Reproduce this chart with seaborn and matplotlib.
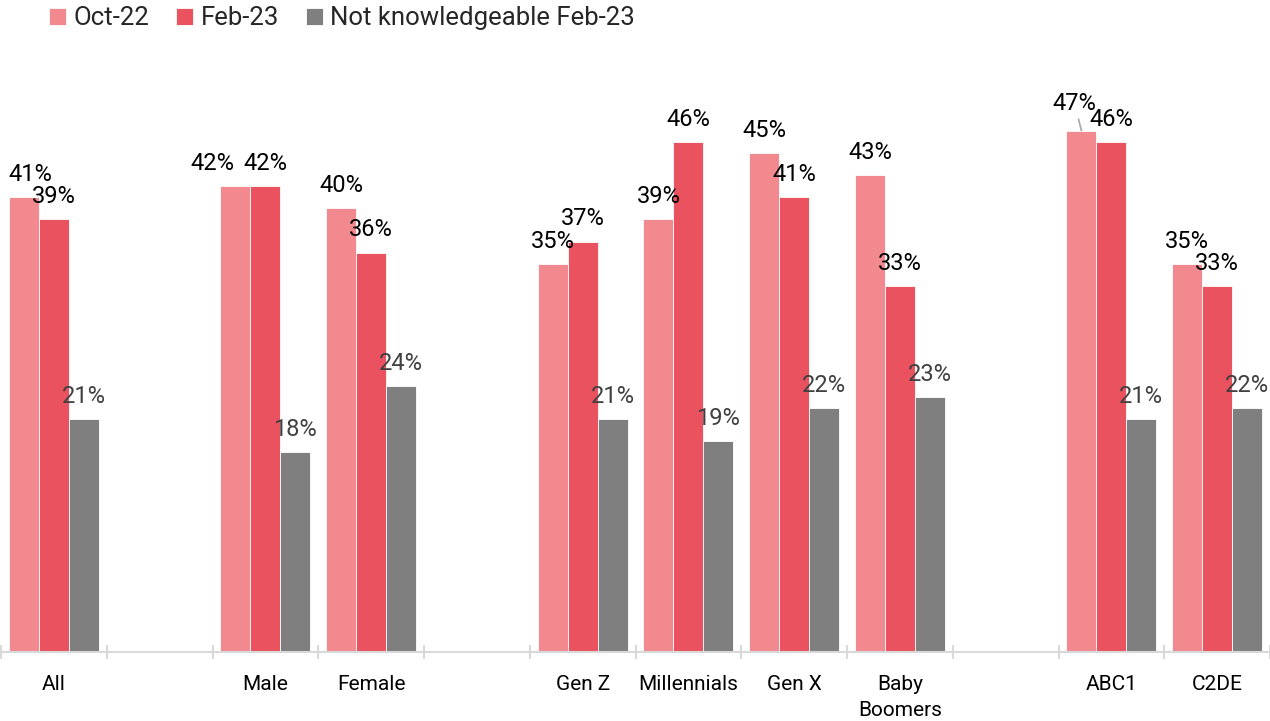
import matplotlib
matplotlib.use("Agg")
import matplotlib.pyplot as plt
import numpy as np
import pandas as pd
import seaborn as sns

# Category slots along the x axis (blank slots separate the groups)
categories = ["All", " ", "Male", "Female", "  ", "Gen Z", "Millennials",
              "Gen X", "Baby\nBoomers", "   ", "ABC1", "C2DE"]
groups = ["All", "Male", "Female", "Gen Z", "Millennials", "Gen X",
          "Baby\nBoomers", "ABC1", "C2DE"]
series = ["Oct-22", "Feb-23", "Not knowledgeable Feb-23"]
oct22 = [41, 42, 40, 35, 39, 45, 43, 47, 35]
feb23 = [39, 42, 36, 37, 46, 41, 33, 46, 33]
not_knowledgeable = [21, 18, 24, 21, 19, 22, 23, 21, 22]

colors = ["#F1898F", "#E9525E", "#7F7F7F"]
label_colors = ["#000000", "#000000", "#404040"]

df = pd.DataFrame({
    "group": groups * 3,
    "series": [s for s in series for _ in groups],
    "value": oct22 + feb23 + not_knowledgeable,
})
lookup = {(r.series, r.group): r.value for r in df.itertuples()}

sns.set_theme(style="white")
plt.rcParams["font.family"] = ["Roboto", "DejaVu Sans"]

fig = plt.figure(figsize=(12.7, 7.21), dpi=100)
ax = fig.add_axes([0.0008, 69 / 721, 0.9992, 588 / 721])

sns.barplot(data=df, x="group", y="value", hue="series", order=categories,
            hue_order=series, palette=colors, width=0.85, saturation=1,
            edgecolor="white", linewidth=0.6, ax=ax)

handles, labels = ax.get_legend_handles_labels()
ax.get_legend().remove()
fig.legend(handles, labels, loc="upper left", bbox_to_anchor=(0.0385, 0.991),
           ncol=3, frameon=False, fontsize=18.5, handlelength=0.65,
           handleheight=0.65, handletextpad=0.3, columnspacing=1.05,
           borderpad=0, borderaxespad=0)

# Small label shifts (points) where neighbouring labels would collide
nudges = {
    ("Oct-22", "All"): (5, 0),
    ("Oct-22", "Male"): (-16.5, 0),
    ("Oct-22", "ABC1"): (-5, 3.5),
}
leaders = {("Oct-22", "ABC1")}

for s, container, lc in zip(series, ax.containers, label_colors):
    for bar in container:
        cx = bar.get_x() + bar.get_width() / 2
        cat = categories[int(round(cx))]
        if (s, cat) not in lookup:
            continue
        val = lookup[(s, cat)]
        dx, dy = nudges.get((s, cat), (0, 0))
        kw = {}
        if (s, cat) in leaders:
            kw["arrowprops"] = dict(arrowstyle="-", color="#A6A6A6", lw=1.2,
                                    shrinkA=1, shrinkB=0)
        ax.annotate(f"{val}%", xy=(cx, val), xytext=(dx, 8 + dy),
                    textcoords="offset points", ha="center", va="bottom",
                    fontsize=17, color=lc, annotation_clip=False, **kw)

ax.set_xlim(-0.5, len(categories) - 0.5)
ax.set_ylim(0, 53)
ax.set_xlabel("")
ax.set_ylabel("")
ax.set_yticks([])

ax.set_xticks(range(len(categories)))
ax.set_xticklabels(categories, fontsize=15, color="#000000")
for t in ax.get_xticklabels():
    t.set_linespacing(1.5)
ax.set_xticks(np.arange(-0.5, len(categories), 1), minor=True)
ax.tick_params(axis="x", which="major", bottom=True, length=0, pad=16.5)
ax.tick_params(axis="x", which="minor", bottom=True, direction="inout",
               length=10, width=1.5, color="#D9D9D9")

for side in ["left", "top", "right"]:
    ax.spines[side].set_visible(False)
ax.spines["bottom"].set_color("#D9D9D9")
ax.spines["bottom"].set_linewidth(1.5)

fig.savefig("out.png", dpi=100)
